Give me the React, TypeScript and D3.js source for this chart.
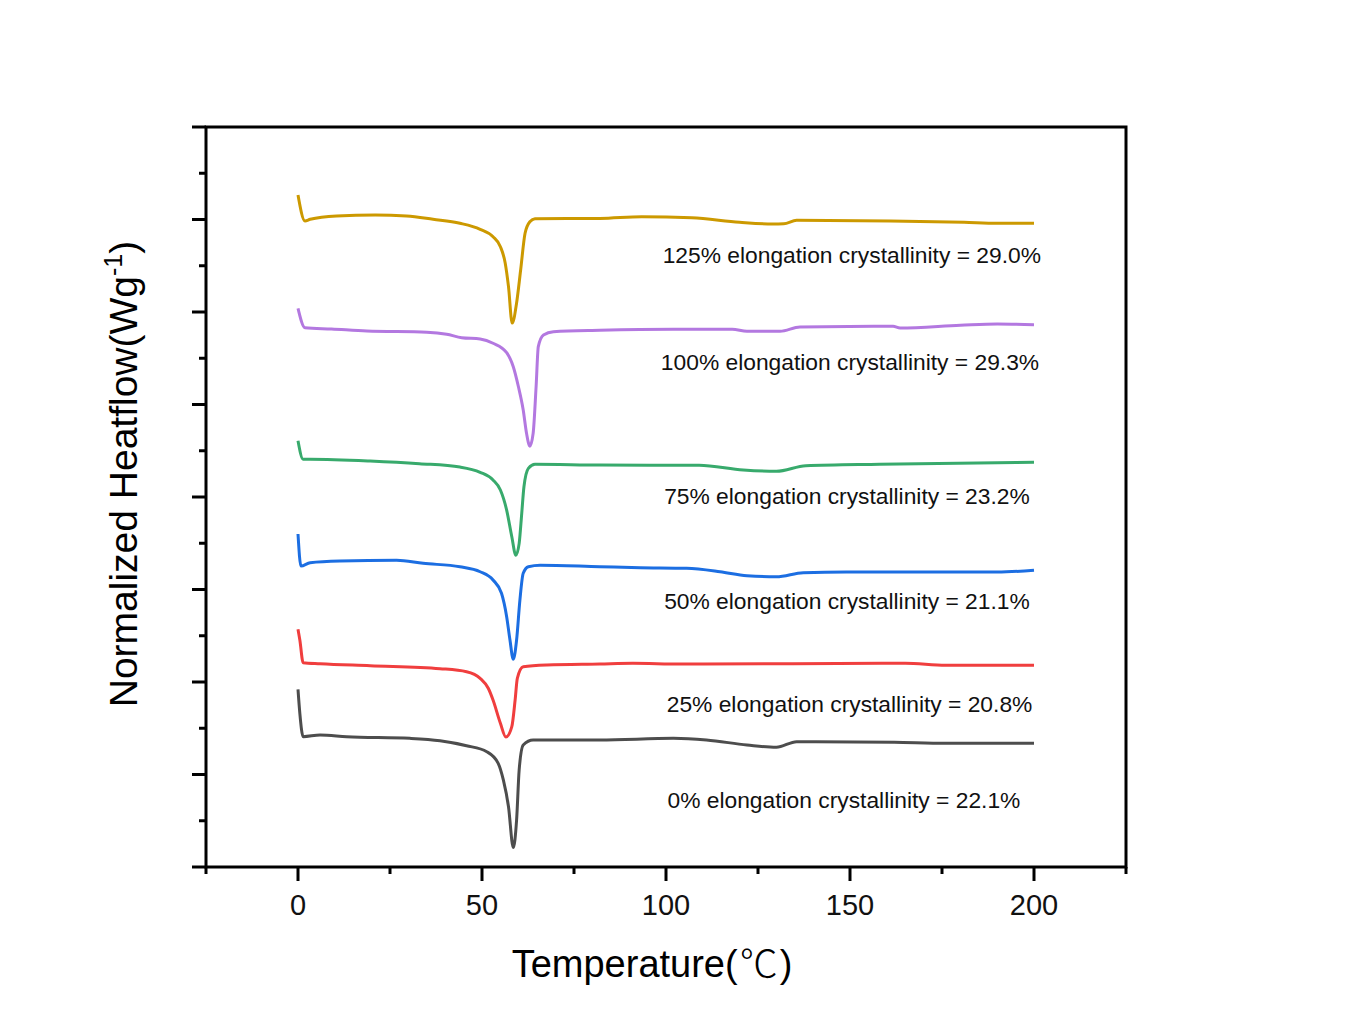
import React from "react";
import * as d3 from "d3";

const width = 1353;
const height = 1036;

// temperature (°C) / normalized heatflow (arb. offset units)
const temp125 = [0, 1.9, 3.3, 10.5, 21, 29.5, 36.7, 44, 49.5, 53, 55, 56.3, 57.2, 58.2, 59.4, 60.5, 61.7, 63, 64.4, 82, 93.4, 107, 120, 129, 132, 135.5, 161, 181, 190, 200];
const flow125 = [7.265, 6.984, 7.002, 7.038, 7.049, 7.038, 7.002, 6.959, 6.894, 6.814, 6.706, 6.53, 6.274, 5.88, 6.097, 6.454, 6.851, 6.976, 7.009, 7.011, 7.03, 7.019, 6.97, 6.951, 6.954, 6.991, 6.984, 6.97, 6.959, 6.959];

const temp100 = [0, 1.9, 9.1, 18.7, 35, 40.4, 44.5, 49.5, 53, 56.7, 58.5, 59.9, 61.2, 62.1, 63, 63.9, 64.7, 65.3, 66.7, 69.4, 82, 102, 118, 122, 131, 136.4, 161.7, 163.6, 180, 190, 200];
const flow100 = [6.04, 5.83, 5.816, 5.795, 5.781, 5.759, 5.722, 5.708, 5.662, 5.56, 5.409, 5.192, 4.941, 4.689, 4.55, 4.689, 5.192, 5.625, 5.751, 5.787, 5.802, 5.813, 5.813, 5.791, 5.791, 5.838, 5.845, 5.827, 5.856, 5.87, 5.863];

const temp75 = [0, 1.4, 3.3, 19.6, 33, 44, 49.5, 53, 55, 56.7, 58.1, 59.2, 60.1, 60.8, 61.4, 62.6, 64.4, 82, 109, 121, 130, 138, 158, 190, 200];
const flow75 = [4.609, 4.408, 4.408, 4.389, 4.36, 4.324, 4.267, 4.184, 4.076, 3.859, 3.571, 3.37, 3.499, 3.824, 4.111, 4.31, 4.354, 4.346, 4.343, 4.292, 4.278, 4.338, 4.354, 4.371, 4.375];

const temp50 = [0, 0.8, 3.3, 11.4, 26.8, 34, 44, 49.5, 53, 55.3, 56.7, 57.6, 58.5, 59.4, 60.3, 61.2, 62.6, 65.8, 82, 93, 105.6, 114.7, 122, 130, 137.3, 149, 190, 200];
const flow50 = [3.6, 3.254, 3.29, 3.308, 3.316, 3.283, 3.246, 3.192, 3.103, 2.959, 2.706, 2.454, 2.245, 2.454, 2.886, 3.175, 3.246, 3.262, 3.246, 3.236, 3.229, 3.192, 3.149, 3.138, 3.182, 3.189, 3.189, 3.208];

const temp25 = [0, 0.5, 1.4, 6, 19.6, 38.6, 45.8, 49.5, 51.7, 53, 55, 56.5, 58.1, 59, 59.6, 61.2, 67.6, 82, 91, 104, 165, 176, 200];
const flow25 = [2.57, 2.454, 2.209, 2.198, 2.176, 2.144, 2.111, 2.04, 1.932, 1.805, 1.554, 1.405, 1.517, 1.805, 2.04, 2.165, 2.184, 2.195, 2.202, 2.195, 2.202, 2.181, 2.181];

const temp0 = [0, 0.5, 1.4, 6, 13.2, 30.4, 38.6, 45.8, 51.3, 54.4, 55.8, 57.2, 58.5, 59.4, 60.1, 61.2, 63.9, 82, 102, 111, 122, 130, 135.5, 162, 176, 200];
const flow0 = [1.921, 1.662, 1.409, 1.427, 1.409, 1.391, 1.365, 1.311, 1.246, 1.121, 0.941, 0.652, 0.21, 0.508, 1.049, 1.319, 1.373, 1.373, 1.391, 1.373, 1.319, 1.294, 1.355, 1.348, 1.337, 1.337];

const series = [
  { temp: temp125, flow: flow125, color: "#CC9900" },
  { temp: temp100, flow: flow100, color: "#B378E0" },
  { temp: temp75, flow: flow75, color: "#38AA6C" },
  { temp: temp50, flow: flow50, color: "#1C6EE2" },
  { temp: temp25, flow: flow25, color: "#F03E3E" },
  { temp: temp0, flow: flow0, color: "#4D4D4D" },
];

const labelTexts = [
  "125% elongation crystallinity = 29.0%",
  "100% elongation crystallinity = 29.3%",
  "75% elongation crystallinity = 23.2%",
  "50% elongation crystallinity = 21.1%",
  "25% elongation crystallinity = 20.8%",
  "0% elongation crystallinity = 22.1%",
];
const labelTemp = [99.1, 98.6, 99.5, 99.5, 100.2, 100.4];
const labelFlow = [6.53, 5.37, 3.92, 2.79, 1.68, 0.64];

const xMajor = [0, 50, 100, 150, 200];
const xMinor = [-25, 25, 75, 125, 175, 225];
const yMajor = d3.range(0, 9);
const yMinor = d3.range(0.5, 8, 1);

const font = "'Liberation Sans', Arial, 'Noto Sans CJK SC', sans-serif";
const cjk = "'Noto Sans CJK SC', 'Noto Sans CJK JP', sans-serif";

export default function App() {
  const x = d3.scaleLinear().domain([-25, 225]).range([206, 1126]);
  const y = d3.scaleLinear().domain([0, 8]).range([867, 127]);
  const [x0, x1] = x.range();
  const [y0, y1] = y.range();

  const line = d3.line<number>().curve(d3.curveMonotoneX);

  return (
    <div style={{ position: "absolute", left: 0, top: 0 }}>
      <svg width={width} height={height} style={{ display: "block", background: "#fff" }} fontFamily={font}>
        {series.map((s, i) => (
          <path
            key={i}
            d={line.x((_, j) => x(s.temp[j])).y((d) => y(d))(s.flow) ?? ""}
            fill="none"
            stroke={s.color}
            strokeWidth={3}
            strokeLinejoin="round"
          />
        ))}

        {labelTexts.map((t, i) => (
          <text key={i} x={x(labelTemp[i])} y={y(labelFlow[i])} fontSize={22.8} fill="#111">
            {t}
          </text>
        ))}

        {/* frame */}
        <rect x={x0} y={y1} width={x1 - x0} height={y0 - y1} fill="none" stroke="#000" strokeWidth={3} />

        {/* y ticks */}
        {yMajor.map((v) => (
          <line key={"ym" + v} x1={x0 - 14} x2={x0} y1={y(v)} y2={y(v)} stroke="#000" strokeWidth={3} />
        ))}
        {yMinor.map((v) => (
          <line key={"yn" + v} x1={x0 - 7} x2={x0} y1={y(v)} y2={y(v)} stroke="#000" strokeWidth={3} />
        ))}

        {/* x ticks */}
        {xMajor.map((v) => (
          <g key={"xm" + v}>
            <line x1={x(v)} x2={x(v)} y1={y0} y2={y0 + 14} stroke="#000" strokeWidth={3} />
            <text x={x(v)} y={915} fontSize={29} textAnchor="middle" fill="#111">
              {v}
            </text>
          </g>
        ))}
        {xMinor.map((v) => (
          <line key={"xn" + v} x1={x(v)} x2={x(v)} y1={y0} y2={y0 + 7} stroke="#000" strokeWidth={3} />
        ))}

        <text x={652} y={977} fontSize={38} textAnchor="middle" fill="#000">
          Temperature(
          <tspan fontFamily={cjk} fontWeight={300} dx={2}>℃</tspan>
          <tspan dx={2}>)</tspan>
        </text>

        <text transform="translate(137,474) rotate(-90)" fontSize={39} textAnchor="middle" fill="#000">
          Normalized Heatflow(Wg
          <tspan fontSize={25} dy={-15}>-1</tspan>
          <tspan dy={15}>)</tspan>
        </text>
      </svg>
    </div>
  );
}
